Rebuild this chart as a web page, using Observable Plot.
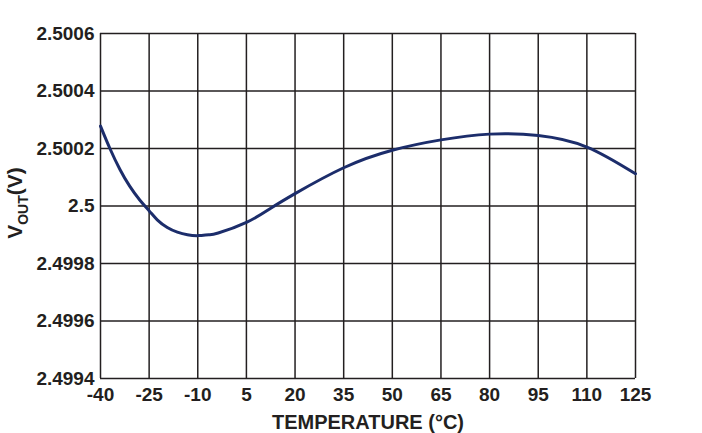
<!DOCTYPE html>
<html>
<head>
<meta charset="utf-8">
<script src="https://cdn.jsdelivr.net/npm/d3@7"></script>
<script src="https://cdn.jsdelivr.net/npm/@observablehq/plot@0.6"></script>
<style>
  html, body { margin: 0; padding: 0; background: #fff; }
  #chart svg { display: block; }
</style>
</head>
<body>
<div id="chart"></div>
<script>
const temps = [-40, -37.1, -34, -31, -27.9, -24.9, -22.5, -19.4, -16.3, -13.2, -9.8, -6.6, -3.7, 5, 12.5, 20, 35, 50, 65, 80, 95, 110, 125];
const vout  = [2.500278, 2.5002, 2.500127, 2.500069, 2.500021, 2.499982, 2.499952, 2.499925, 2.499909, 2.4999, 2.499897, 2.4999, 2.499906, 2.499943, 2.499992, 2.500043, 2.500133, 2.500194, 2.50023, 2.50025, 2.500245, 2.500205, 2.500112];
const xTicks = [-40, -25, -10, 5, 20, 35, 50, 65, 80, 95, 110, 125];
const yTicks = [2.4994, 2.4996, 2.4998, 2.5, 2.5002, 2.5004, 2.5006];

const data = temps.map((t, i) => ({t, v: vout[i]}));
const font = "'Liberation Sans', Arial, Helvetica, sans-serif";

const chart = Plot.plot({
  width: 702,
  height: 433,
  marginLeft: 100,
  marginRight: 67,
  marginTop: 33,
  marginBottom: 55,
  style: {fontFamily: font, fontSize: "19px", fontWeight: "bold", color: "#231f20", background: "#fff"},
  x: {domain: [-40, 125], label: null},
  y: {domain: [2.4994, 2.5006], label: null},
  marks: [
    Plot.ruleX(xTicks, {stroke: "#231f20", strokeWidth: 1.5}),
    Plot.ruleY(yTicks, {stroke: "#231f20", strokeWidth: 1.5}),
    Plot.line(data, {x: "t", y: "v", stroke: "#1c2d6b", strokeWidth: 3, curve: "natural"}),
    Plot.axisX({ticks: xTicks, tickSize: 0, tickPadding: 9, tickFormat: d => String(d), label: null}),
    Plot.axisY({ticks: yTicks, tickSize: 0, tickPadding: 6, tickFormat: d => String(+d.toFixed(4)), label: null}),
    Plot.text(["TEMPERATURE (°C)"], {frameAnchor: "bottom", dy: 50, fontSize: 20, fontWeight: "bold", fill: "#231f20"})
  ]
});

const svg = d3.select(chart);
svg.selectAll('g[aria-label="x-axis tick label"], g[aria-label="y-axis tick label"]')
  .attr("font-size", 19).style("font-size", "19px");
svg.selectAll('g[aria-label="x-axis tick label"] text, g[aria-label="y-axis tick label"] text')
  .style("font-size", "19px");

// y-axis label with subscript
const lbl = svg.append("text")
  .attr("transform", "translate(22,203) rotate(-90)")
  .attr("text-anchor", "middle")
  .attr("font-family", font)
  .attr("font-weight", "bold")
  .attr("font-size", 21)
  .attr("fill", "#231f20");
lbl.append("tspan").text("V");
lbl.append("tspan").attr("font-size", 14).attr("dy", 6).text("OUT");
lbl.append("tspan").attr("dy", -6).text("(V)");

document.getElementById("chart").appendChild(chart);
</script>
</body>
</html>
